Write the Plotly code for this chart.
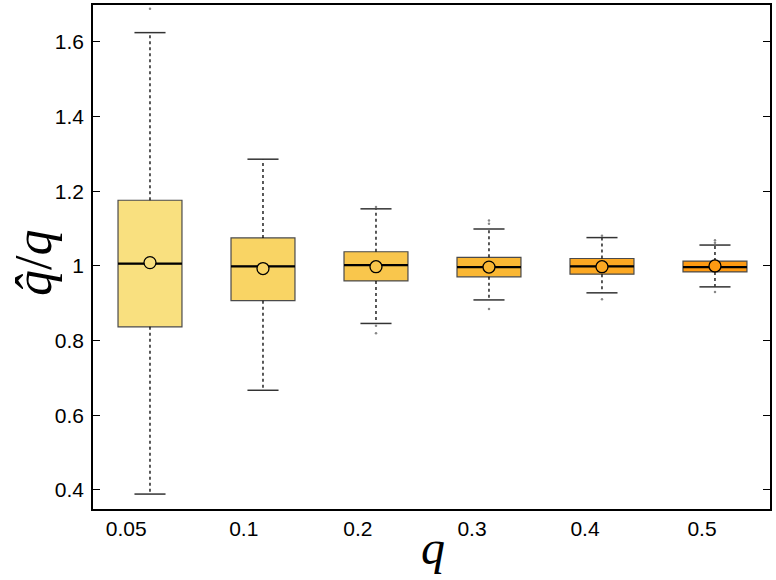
import plotly.graph_objects as go

# ---- data ----
categories = ["0.05", "0.1", "0.2", "0.3", "0.4", "0.5"]
positions = [1, 2, 3, 4, 5, 6]
label_positions = [0.79, 1.83, 2.84, 3.85, 4.85, 5.885]
q1 = [0.837, 0.907, 0.960, 0.971, 0.978, 0.984]
median = [1.006, 0.999, 1.002, 0.997, 0.999, 0.997]
q3 = [1.176, 1.075, 1.038, 1.023, 1.020, 1.013]
lower_w = [0.389, 0.667, 0.846, 0.909, 0.928, 0.944]
upper_w = [1.625, 1.286, 1.153, 1.099, 1.076, 1.056]
means = [1.009, 0.993, 0.998, 0.997, 0.998, 1.000]
outlier_x = [1, 3, 3, 3, 4, 4, 4, 5, 5, 6, 6, 6]
outlier_y = [1.689, 1.158, 0.840, 0.820, 1.122, 1.113, 0.885, 1.081, 0.911, 1.069, 1.062, 0.930]
colors = ["#F9E07F", "#F9D464", "#F9C64C", "#FAB733", "#FCA822", "#FE9A12"]

box_w = 0.566
cap_w = 0.275

fig = go.Figure()

# whiskers (dotted)
wx, wy = [], []
for p, a, b, lo, hi in zip(positions, q1, q3, lower_w, upper_w):
    wx += [p, p, None, p, p, None]
    wy += [b, hi, None, a, lo, None]
fig.add_trace(go.Scatter(x=wx, y=wy, mode="lines",
                         line=dict(color="black", width=1.3, dash="dot"),
                         hoverinfo="skip", showlegend=False))
# caps
cx, cy = [], []
for p, lo, hi in zip(positions, lower_w, upper_w):
    cx += [p - cap_w / 2, p + cap_w / 2, None, p - cap_w / 2, p + cap_w / 2, None]
    cy += [hi, hi, None, lo, lo, None]
fig.add_trace(go.Scatter(x=cx, y=cy, mode="lines",
                         line=dict(color="#333333", width=1.5),
                         hoverinfo="skip", showlegend=False))
# outliers
fig.add_trace(go.Scatter(x=outlier_x, y=outlier_y, mode="markers",
                         marker=dict(color="#888888", size=2.5),
                         hoverinfo="skip", showlegend=False))

# boxes
for i, p in enumerate(positions):
    fig.add_trace(go.Box(
        x=[p], q1=[q1[i]], median=[median[i]], q3=[q3[i]],
        lowerfence=[q1[i]], upperfence=[q3[i]],
        width=box_w, fillcolor=colors[i],
        line=dict(color="#4a4a4a", width=1.2),
        whiskerwidth=0, boxpoints=False, showlegend=False,
    ))

# medians
mx, my = [], []
for p, m in zip(positions, median):
    mx += [p - box_w / 2, p + box_w / 2, None]
    my += [m, m, None]
fig.add_trace(go.Scatter(x=mx, y=my, mode="lines",
                         line=dict(color="black", width=2.2),
                         hoverinfo="skip", showlegend=False))
# means
fig.add_trace(go.Scatter(x=positions, y=means, mode="markers",
                         marker=dict(size=12, color=colors,
                                     line=dict(color="black", width=1.3)),
                         hoverinfo="skip", showlegend=False))

fig.update_layout(
    width=776, height=580,
    margin=dict(l=93, r=6, t=3, b=71),
    plot_bgcolor="white", paper_bgcolor="white",
    font=dict(family="Liberation Sans, Arial, sans-serif", size=21, color="black"),
    xaxis=dict(range=[0.4956, 6.487], tickvals=label_positions, ticktext=categories,
               ticks="", showline=True, linecolor="black", linewidth=1.5, mirror=True,
               showgrid=False, zeroline=False, ticklabelstandoff=0),
    yaxis=dict(range=[0.349, 1.699], tickvals=[0.4, 0.6, 0.8, 1.0, 1.2, 1.4, 1.6],
               ticktext=["0.4", "0.6", "0.8", "1", "1.2", "1.4", "1.6"],
               ticks="inside", ticklen=7, tickwidth=1.2, tickcolor="black",
               showline=True, linecolor="black", linewidth=1.5, mirror="allticks",
               showgrid=False, zeroline=False, ticklabelstandoff=3),
    annotations=[
        dict(text="<i>q</i>", xref="paper", yref="paper",
             x=(433 - 93) / 677, y=-(548 - 509) / 506, xanchor="center", yanchor="middle",
             showarrow=False, font=dict(family="Liberation Serif, serif", size=48)),
        dict(text="<i>q\u0302</i>/<i>q</i>", xref="paper", yref="paper",
             x=-(93 - 34) / 677, y=(509 - 262) / 506, xanchor="center", yanchor="middle",
             textangle=-90, showarrow=False,
             font=dict(family="Liberation Serif, serif", size=52)),
    ],
)

fig.write_html("out.html")
